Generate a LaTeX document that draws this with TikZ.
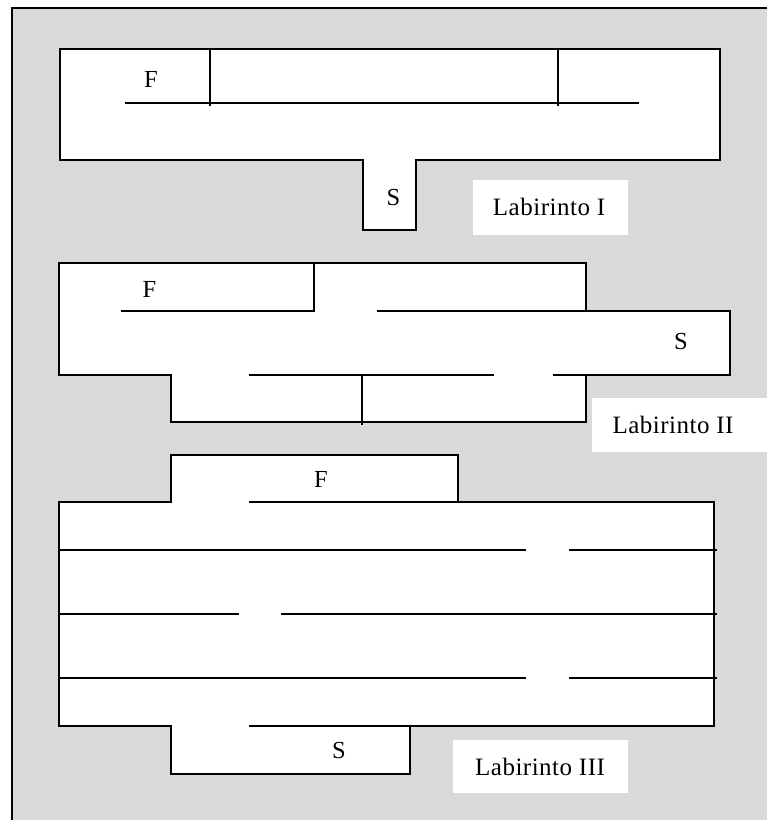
\documentclass[tikz,border=0pt]{standalone}
\usepackage{fontspec}
\setmainfont{Liberation Serif}
\newfontfamily\labelfont[LetterSpace=2]{Liberation Serif}
\begin{document}
\begin{tikzpicture}[x=1pt,y=-1pt,
  wall/.style={line width=2.8pt, line cap=rect, line join=miter, draw=black},
  room/.style={wall, fill=white},
  letter/.style={anchor=base, inner sep=0pt, font=\fontsize{24.5}{24.5}\selectfont},
  title/.style={anchor=base, inner sep=0pt, font=\labelfont\fontsize{25}{25}\selectfont},
  plate/.style={fill=white, draw=none}]
  % page and stippled panel
  \useasboundingbox (0,0) rectangle (767,820);
  \fill[white] (0,0) rectangle (767,820);
  \fill[black!15] (12,8) rectangle (767,820);
  \draw[line width=2.8pt] (12,820) -- (12,8) -- (767,8);

  % ---- Labirinto I ----
  \draw[room] (60,49) -- (720,49) -- (720,160) -- (416,160) -- (416,230)
              -- (363,230) -- (363,160) -- (60,160) -- cycle;
  \draw[wall] (126,103) -- (638,103);
  \draw[wall] (210,49) -- (210,105);
  \draw[wall] (558,49) -- (558,105);
  \node[letter] (f1) at (151,87) {F};
  \node[letter] (s1) at (393.5,205) {S};
  \fill[plate] (473,180) rectangle (628,235);
  \node[title] (l1) at (549,215) {Labirinto I};

  % ---- Labirinto II ----
  \draw[room] (59,263) -- (586,263) -- (586,311) -- (730,311) -- (730,375)
              -- (586,375) -- (586,422) -- (171,422) -- (171,375) -- (59,375) -- cycle;
  \draw[wall] (122,311) -- (314,311) -- (314,263);
  \draw[wall] (378,311) -- (586,311);
  \draw[wall] (250,375) -- (493,375);
  \draw[wall] (554,375) -- (586,375);
  \draw[wall] (362,375) -- (362,424);
  \node[letter] (f2) at (149.5,297) {F};
  \node[letter] (s2) at (681,349) {S};
  \fill[plate] (592,398) rectangle (767,452);
  \node[title] (l2) at (673,433) {Labirinto II};

  % ---- Labirinto III ----
  \draw[room] (171,455) -- (458,455) -- (458,502) -- (714,502) -- (714,726)
              -- (410,726) -- (410,774) -- (171,774) -- (171,726) -- (59,726)
              -- (59,502) -- (171,502) -- cycle;
  \draw[wall] (250,502) -- (458,502);
  \draw[wall] (59,550) -- (525,550);
  \draw[wall] (570,550) -- (716,550);
  \draw[wall] (59,614) -- (238,614);
  \draw[wall] (282,614) -- (716,614);
  \draw[wall] (59,678) -- (525,678);
  \draw[wall] (570,678) -- (716,678);
  \draw[wall] (250,726) -- (410,726);
  \node[letter] (f3) at (321,487) {F};
  \node[letter] (s3) at (339,758) {S};
  \fill[plate] (453,740) rectangle (628,793);
  \node[title] (l3) at (540,775) {Labirinto III};
\end{tikzpicture}
\end{document}
